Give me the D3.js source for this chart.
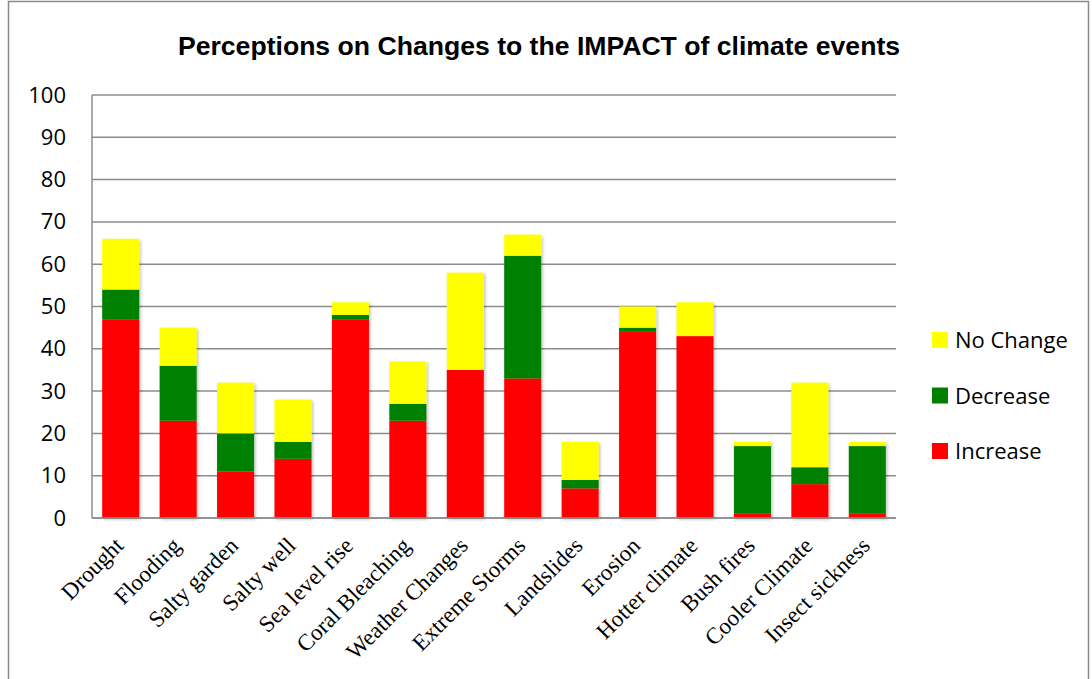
<!DOCTYPE html>
<html>
<head>
<meta charset="utf-8">
<script src="https://cdn.jsdelivr.net/npm/d3@7"></script>
<style>
  html, body { margin: 0; padding: 0; background: #fff; }
  svg { display: block; }
</style>
</head>
<body>
<svg id="chart" width="1092" height="679"></svg>
<script>
// Event categories shown along the x axis
const categories = ["Drought", "Flooding", "Salty garden", "Salty well", "Sea level rise",
  "Coral Bleaching", "Weather Changes", "Extreme Storms", "Landslides", "Erosion",
  "Hotter climate", "Bush fires", "Cooler Climate", "Insect sickness"];

// Number of responses per perception, stacked bottom to top
const increase = [47, 23, 11, 14, 47, 23, 35, 33, 7, 44, 43, 1, 8, 1];
const decrease = [7, 13, 9, 4, 1, 4, 0, 29, 2, 1, 0, 16, 4, 16];
const noChange = [12, 9, 12, 10, 3, 10, 23, 5, 9, 5, 8, 1, 20, 1];

const seriesNames = ["Increase", "Decrease", "No Change"];
const seriesColors = ["#ff0000", "#008000", "#ffff00"];
const yTicks = [0, 10, 20, 30, 40, 50, 60, 70, 80, 90, 100];

const svg = d3.select("#chart");
const plot = { left: 92, right: 896, top: 95, bottom: 518 };

// Outer frame
svg.append("rect")
  .attr("x", 8.5).attr("y", 1.5)
  .attr("width", 1080).attr("height", 700)
  .attr("fill", "none").attr("stroke", "#8a8a8a").attr("stroke-width", 1.5);

// Soft shadow under bars
const defs = svg.append("defs");
const f = defs.append("filter").attr("id", "shadow")
  .attr("x", "-20%").attr("y", "-20%").attr("width", "140%").attr("height", "140%");
f.append("feDropShadow").attr("dx", 1.5).attr("dy", 1.5).attr("stdDeviation", 1.5)
  .attr("flood-color", "#000").attr("flood-opacity", 0.25);

// Title
svg.append("text")
  .attr("x", 539).attr("y", 55)
  .attr("text-anchor", "middle")
  .attr("font-family", "'Liberation Sans', Arial, sans-serif")
  .attr("font-weight", "bold")
  .attr("font-size", 26.6)
  .text("Perceptions on Changes to the IMPACT of climate events");

const x = d3.scaleBand().domain(categories).range([plot.left, plot.right]).paddingInner(0.355).paddingOuter(0.1775);
const y = d3.scaleLinear().domain([0, 100]).range([plot.bottom, plot.top]);

// Gridlines
svg.append("g").selectAll("line").data(yTicks).join("line")
  .attr("x1", plot.left).attr("x2", plot.right)
  .attr("y1", d => y(d)).attr("y2", d => y(d))
  .attr("stroke", "#8c8c8c").attr("stroke-width", 1.5);

// Left axis line
svg.append("line")
  .attr("x1", plot.left).attr("x2", plot.left)
  .attr("y1", plot.top).attr("y2", plot.bottom)
  .attr("stroke", "#8c8c8c").attr("stroke-width", 1.5);

// Y tick labels
const yAxis = svg.append("g").attr("transform", `translate(${plot.left},0)`)
  .call(d3.axisLeft(y).tickValues(yTicks).tickSize(0).tickPadding(26));
yAxis.select(".domain").remove();
yAxis.selectAll("text")
  .attr("font-family", "'Open Sans', sans-serif")
  .attr("font-size", 22)
  .attr("fill", "#000");

// Stacked data
const rows = categories.map((c, i) => ({ cat: c, Increase: increase[i], Decrease: decrease[i], "No Change": noChange[i] }));
const stack = d3.stack().keys(seriesNames)(rows);

const barsG = svg.append("g").attr("filter", "url(#shadow)");
stack.forEach((layer, li) => {
  barsG.append("g").selectAll("rect").data(layer).join("rect")
    .attr("x", d => x(d.data.cat))
    .attr("width", x.bandwidth())
    .attr("y", d => y(d[1]))
    .attr("height", d => y(d[0]) - y(d[1]))
    .attr("fill", seriesColors[li]);
});

// Baseline
svg.append("line")
  .attr("x1", plot.left).attr("x2", plot.right)
  .attr("y1", plot.bottom).attr("y2", plot.bottom)
  .attr("stroke", "#8c8c8c").attr("stroke-width", 1.5);

// Rotated category labels
const xAxis = svg.append("g").attr("transform", `translate(0,${plot.bottom})`)
  .call(d3.axisBottom(x).tickSize(0).tickPadding(0));
xAxis.select(".domain").remove();
xAxis.selectAll("text")
  .attr("font-family", "'Liberation Serif', 'Times New Roman', serif")
  .attr("font-size", 23)
  .attr("fill", "#000")
  .attr("text-anchor", "end")
  .attr("dy", 0)
  .attr("y", 0)
  .attr("transform", "translate(4,29) rotate(-45)");

// Legend
const legendOrder = [2, 1, 0];
const lg = svg.append("g");
legendOrder.forEach((si, k) => {
  const ly = 332 + k * 55.5;
  lg.append("rect").attr("x", 932).attr("y", ly).attr("width", 16).attr("height", 16)
    .attr("fill", seriesColors[si]);
  lg.append("text").attr("x", 955).attr("y", ly + 16)
    .attr("font-family", "'Open Sans', sans-serif").attr("font-size", 22)
    .attr("fill", "#000")
    .text(seriesNames[si]);
});
</script>
</body>
</html>
